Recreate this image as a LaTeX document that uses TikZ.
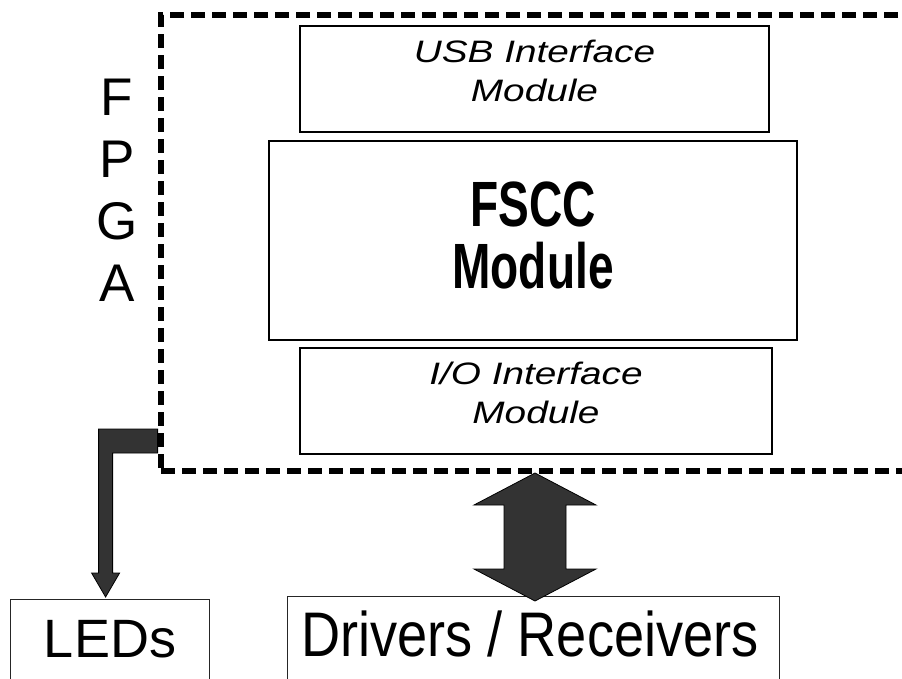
\documentclass[tikz,border=0pt]{standalone}
\usepackage{fontspec}
\setmainfont{Liberation Sans}
\newfontfamily\wideit{Liberation Sans}[FakeStretch=1.25]
\newfontfamily\narrowbf{Liberation Sans}[FakeStretch=0.72]
\newfontfamily\narrowrm{Liberation Sans}[FakeStretch=0.86]
\usetikzlibrary{positioning}

\begin{document}
\begin{tikzpicture}[x=1pt, y=-1pt,
  modbox/.style={draw, line width=2pt, inner sep=0pt, anchor=north west},
  outbox/.style={draw=black!85, line width=1.2pt, inner sep=0pt, anchor=north west},
  fpgabox/.style={draw, line width=6pt, dash pattern=on 14pt off 7pt, inner sep=0pt, anchor=north west},
  modtext/.style={align=center, inner sep=0pt, font=\wideit\itshape\fontsize{31}{39}\selectfont},
  coretext/.style={align=center, inner sep=0pt, font=\narrowbf\bfseries\fontsize{64}{62}\selectfont},
  fpgatext/.style={align=center, inner sep=0pt, font=\fontsize{53}{62}\selectfont},
  blockarrow/.style={fill=black!80, draw=black, line width=0.8pt}]

\useasboundingbox (0,0) rectangle (902,678);
\clip (0,0) rectangle (902,678);

% modules inside the FPGA
\node [modbox, minimum width=469, minimum height=106] (usb) at (299,25) {};
\node [modbox, minimum width=528, minimum height=199] (core) at (268,140) {};
\node [modbox, minimum width=472, minimum height=106] (io) at (299,347) {};

\node [modtext, yshift=8pt] (usbtext) at (usb) {USB Interface\\Module};
\node [coretext, yshift=5pt] (coretext) at (core) {FSCC\\Module};
\node [modtext, yshift=8pt] (iotext) at (io) {I/O Interface\\Module};

% outside parts
\node [outbox, minimum width=199, minimum height=100] (leds) at (10,599) {};
\node [outbox, minimum width=492, minimum height=100] (drv) at (287,596) {};
\node [inner sep=0pt, font=\fontsize{54}{60}\selectfont] (ledstext) at (110,639) {LEDs};
\node [inner sep=0pt, font=\narrowrm\fontsize{63}{70}\selectfont] (drvtext) at (530,634) {Drivers / Receivers};

% block arrows
\draw [blockarrow] (leds.north) ++(-4.5,-2) -- ++(14,-24) -- ++(-7,0) -- ++(0,-120)
  -- ++(45,0) -- ++(0,-24) -- ++(-59,0) -- ++(0,144) -- ++(-7,0) -- cycle;
\draw [blockarrow] (io.south) ++(-1,18) -- ++(61,32) -- ++(-30,0) -- ++(0,64)
  -- ++(30,0) -- ++(-61,32) -- ++(-61,-32) -- ++(30,0) -- ++(0,-64) -- ++(-30,0) -- cycle;

% FPGA border
\node [fpgabox, minimum width=760, minimum height=456] (fpga) at (158,12) {};
\node [fpgatext] (fpgatag) at (117,190) {F\\P\\G\\A};
\end{tikzpicture}
\end{document}
